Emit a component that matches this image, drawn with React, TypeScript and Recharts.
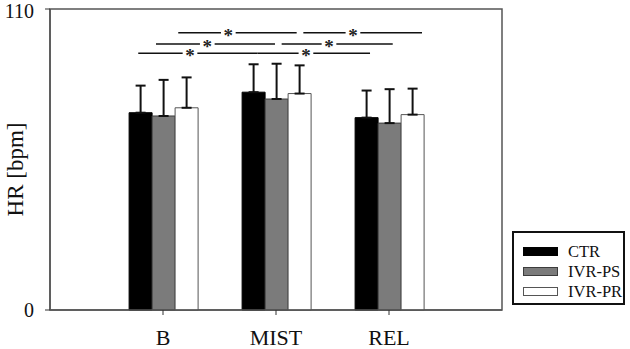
import React from "react";
import {
  ComposedChart,
  Bar,
  XAxis,
  YAxis,
  ErrorBar,
  Legend,
  ReferenceLine,
  ReferenceDot,
  ReferenceArea,
} from "recharts";

const categories = ["B", "MIST", "REL"];
const positions = [1, 2, 3];
const ctrMean = [72.1, 79.6, 70.3];
const ctrSd = [9.9, 10.2, 9.9];
const psMean = [70.9, 77.1, 68.3];
const psSd = [13.2, 12.9, 12.4];
const prMean = [73.9, 79.1, 71.4];
const prSd = [11.1, 10.3, 9.5];
const yTicks = [0, 110];

// significance brackets, in x axis units (category centres at 1, 2, 3)
const bracketFrom = [1.135, 2.242, 0.938, 2.05, 0.781, 1.838];
const bracketTo = [2.183, 3.292, 1.991, 3.033, 1.838, 2.832];
const bracketStar = [1.578, 2.681, 1.392, 2.469, 1.239, 2.265];
const bracketLevel = [101.3, 101.3, 97.2, 97.2, 93.8, 93.8];

const series = [
  { key: "ctr", name: "CTR", fill: "#000000", stroke: "#000000" },
  { key: "ps", name: "IVR-PS", fill: "#7b7b7b", stroke: "#3c3c3c" },
  { key: "pr", name: "IVR-PR", fill: "#ffffff", stroke: "#555555" },
];

const data = categories.map((c, i) => ({
  cat: c,
  pos: positions[i],
  ctr: ctrMean[i],
  ctrErr: [0, ctrSd[i]],
  ps: psMean[i],
  psErr: [0, psSd[i]],
  pr: prMean[i],
  prErr: [0, prSd[i]],
}));

const FONT = "'Liberation Serif', 'Times New Roman', Times, serif";
const GAP = 0.065;

function LegendBox() {
  return (
    <div
      style={{
        border: "2px solid #111",
        width: 113,
        height: 74,
        boxSizing: "border-box",
        paddingTop: 9,
        paddingLeft: 9,
        fontFamily: FONT,
        fontSize: 16.5,
        color: "#111",
        background: "#fff",
      }}
    >
      {series.map((s) => (
        <div key={s.key} style={{ display: "flex", alignItems: "center", height: 19.7 }}>
          <span
            style={{
              display: "inline-block",
              width: 33,
              height: 7,
              background: s.fill,
              border: `1px solid ${s.stroke}`,
              marginRight: 10,
            }}
          />
          <span style={{ lineHeight: "19px" }}>{s.name}</span>
        </div>
      ))}
    </div>
  );
}

function Star(props: { cx?: number; cy?: number }) {
  const { cx = 0, cy = 0 } = props;
  return (
    <text
      x={cx}
      y={cy + 9}
      textAnchor="middle"
      fontSize={19}
      fontWeight="bold"
      fontFamily={FONT}
      fill="#222"
    >
      *
    </text>
  );
}

function YTick(props: { x?: number; y?: number; payload?: { value: number } }) {
  const { x = 0, y = 0, payload } = props;
  const shift = payload && payload.value === 110 ? 2 : 0;
  return (
    <text
      x={x}
      y={y + shift}
      dy="0.355em"
      textAnchor="end"
      fontSize={20}
      fontFamily={FONT}
      fill="#111"
    >
      {payload ? payload.value : ""}
    </text>
  );
}

function YLabel(props: { viewBox?: { x: number; y: number; height: number } }) {
  const vb = props.viewBox || { x: 0, y: 0, height: 0 };
  const cx = 15;
  const cy = vb.y + vb.height / 2 + 10;
  return (
    <text
      x={cx}
      y={cy}
      transform={`rotate(-90, ${cx}, ${cy})`}
      textAnchor="middle"
      dominantBaseline="central"
      fontSize={23}
      fontFamily={FONT}
      fill="#111"
    >
      HR [bpm]
    </text>
  );
}

export default function App() {
  return (
    <div style={{ position: "absolute", left: 0, top: 0, background: "#fff" }}>
      <ComposedChart
        width={630}
        height={349}
        data={data}
        margin={{ top: 9, right: 128, left: 0, bottom: 0 }}
        barCategoryGap="20%"
        barGap={0}
      >
        <ReferenceArea
          x1={0}
          x2={4}
          y1={0}
          y2={110}
          fill="none"
          stroke="#555"
          strokeWidth={1.5}
          ifOverflow="visible"
        />
        <XAxis
          dataKey="pos"
          type="number"
          domain={[0, 4]}
          allowDataOverflow
          ticks={positions}
          interval={0}
          tickFormatter={(v: number) => categories[v - 1] ?? ""}
          height={39}
          axisLine={{ stroke: "#555", strokeWidth: 1.5 }}
          tickLine={{ stroke: "#333" }}
          tickSize={5}
          tickMargin={14}
          tick={{ fontSize: 22, fontFamily: FONT, fill: "#111" }}
        />
        <YAxis
          width={50}
          domain={[0, 110]}
          ticks={yTicks}
          interval={0}
          axisLine={{ stroke: "#555", strokeWidth: 1.5 }}
          tickLine={{ stroke: "#333" }}
          tickSize={5}
          tickMargin={11}
          tick={<YTick />}
          label={<YLabel />}
        />
        {series.map((s) => (
          <Bar
            key={s.key}
            dataKey={s.key}
            name={s.name}
            fill={s.fill}
            stroke={s.stroke}
            strokeWidth={1}
            isAnimationActive={false}
          >
            <ErrorBar
              dataKey={`${s.key}Err`}
              width={5}
              stroke="#111"
              strokeWidth={2}
              direction="y"
            />
          </Bar>
        ))}
        {bracketFrom.map((from, i) => (
          <ReferenceLine
            key={`a${i}`}
            segment={[
              { x: from, y: bracketLevel[i] },
              { x: bracketStar[i] - GAP, y: bracketLevel[i] },
            ]}
            stroke="#111"
            strokeWidth={1.5}
            ifOverflow="visible"
          />
        ))}
        {bracketTo.map((to, i) => (
          <ReferenceLine
            key={`b${i}`}
            segment={[
              { x: bracketStar[i] + GAP, y: bracketLevel[i] },
              { x: to, y: bracketLevel[i] },
            ]}
            stroke="#111"
            strokeWidth={1.5}
            ifOverflow="visible"
          />
        ))}
        {bracketStar.map((x, i) => (
          <ReferenceDot
            key={`s${i}`}
            x={x}
            y={bracketLevel[i]}
            r={0}
            ifOverflow="visible"
            shape={<Star />}
          />
        ))}
        <Legend
          layout="vertical"
          align="center"
          verticalAlign="middle"
          content={<LegendBox />}
          wrapperStyle={{ left: 512, top: 231, width: 113, height: 74 }}
        />
      </ComposedChart>
    </div>
  );
}
